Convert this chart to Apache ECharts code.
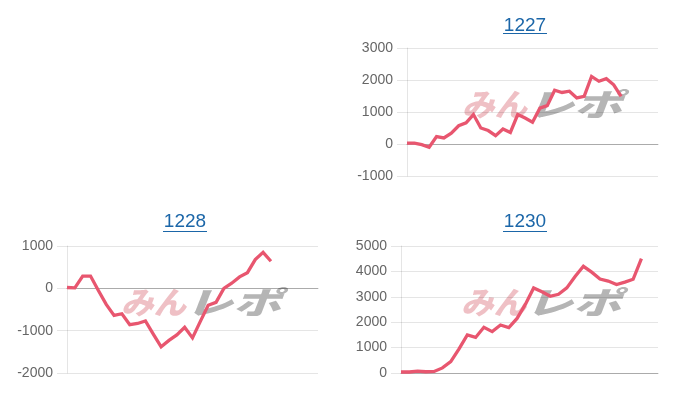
<!DOCTYPE html>
<html>
<head>
<meta charset="utf-8">
<script src="https://cdn.jsdelivr.net/npm/echarts@6/dist/echarts.min.js"></script>
<style>
html,body{margin:0;padding:0;background:#fff;}
#c{width:700px;height:400px;}
</style>
</head>
<body>
<div id="c"></div>
<script>
// ---- data ----
const titles = ['1227', '1228', '1230'];

const cat1227 = ['1','2','3','4','5','6','7','8','9','10','11','12','13','14','15','16','17','18','19','20','21','22','23','24','25','26','27','28','29','30','31','32','33','34','35'];
const cat1228 = ['1','2','3','4','5','6','7','8','9','10','11','12','13','14','15','16','17','18','19','20','21','22','23','24','25','26','27','28','29','30','31','32','33'];
const cat1230 = ['1','2','3','4','5','6','7','8','9','10','11','12','13','14','15','16','17','18','19','20','21','22','23','24','25','26','27','28','29','30','31','32'];

const val1227 = [30, 30, -20, -100, 230, 190, 340, 570, 660, 920, 500, 420, 260, 470, 360, 920, 810, 680, 1120, 1200, 1680, 1610, 1650, 1440, 1490, 2110, 1960, 2040, 1850, 1490];
const val1228 = [20, 10, 290, 290, -50, -380, -640, -600, -860, -830, -770, -1080, -1380, -1230, -1100, -920, -1170, -780, -400, -330, 0, 120, 270, 370, 680, 850, 640];
const val1230 = [40, 40, 70, 50, 60, 200, 450, 950, 1500, 1400, 1800, 1630, 1890, 1790, 2150, 2700, 3350, 3200, 3020, 3100, 3350, 3800, 4200, 3970, 3700, 3620, 3480, 3580, 3690, 4500];

const yTicks1227 = [-1000, 0, 1000, 2000, 3000];
const yTicks1228 = [-2000, -1000, 0, 1000];
const yTicks1230 = [0, 1000, 2000, 3000, 4000, 5000];

// ---- styling ----
const LINE = '#e8566f';
const GRID = 'rgba(0,0,0,0.1)';
const ZERO = 'rgba(0,0,0,0.25)';
const LINK = '#1b66a8';

const panels = [
  {cats: cat1227, vals: val1227, ticks: yTicks1227, grid: {left: 407, top: 48, width: 251, height: 128}},
  {cats: cat1228, vals: val1228, ticks: yTicks1228, grid: {left: 67, top: 246, width: 251, height: 127}},
  {cats: cat1230, vals: val1230, ticks: yTicks1230, grid: {left: 401, top: 246, width: 257, height: 127}}
];
const titlePos = [[525, 26, 503, 547, 33.5], [185, 222, 163, 207, 231.5], [525, 222, 503, 547, 231.5]];
const wmPos = [[462, 104], [121, 302], [461, 302]];

const grids = [], xAxes = [], yAxes = [], series = [], graphics = [];
panels.forEach((p, i) => {
  grids.push(Object.assign({containLabel: false}, p.grid));
  xAxes.push({
    type: 'category', gridIndex: i, data: p.cats, boundaryGap: false,
    axisLabel: {show: false}, axisTick: {show: false}, splitLine: {show: false},
    axisLine: {show: true, onZero: true, lineStyle: {color: ZERO, width: 1}}
  });
  yAxes.push({
    type: 'value', gridIndex: i,
    min: p.ticks[0], max: p.ticks[p.ticks.length - 1], interval: 1000,
    axisLine: {show: true, lineStyle: {color: GRID}},
    axisTick: {show: true, length: 10, lineStyle: {color: GRID}},
    splitLine: {show: true, lineStyle: {color: GRID}},
    axisLabel: {color: '#666', fontSize: 14, margin: 14, fontFamily: 'Liberation Sans, Arial, sans-serif',
      formatter: v => String(v)}
  });
  series.push({
    type: 'line', xAxisIndex: i, yAxisIndex: i, data: p.vals,
    showSymbol: false, symbol: 'none', smooth: false, z: 5,
    lineStyle: {color: LINE, width: 3.3, join: 'miter'}
  });
  const t = titlePos[i];
  graphics.push({
    type: 'text', x: t[0], y: t[1], z: 10,
    style: {text: titles[i], fill: LINK, font: '19px "Liberation Sans", Arial, sans-serif', align: 'center', verticalAlign: 'middle'}
  });
  graphics.push({
    type: 'line', z: 10,
    shape: {x1: t[2], y1: t[4], x2: t[3], y2: t[4]},
    style: {stroke: LINK, lineWidth: 1.2}
  });
  const w = wmPos[i];
  graphics.push({
    type: 'text', x: w[0], y: w[1], z: 0, scaleX: 1.05,
    style: {text: 'みん', fill: 'rgba(228,150,158,0.6)', font: 'italic 900 31px "Noto Sans CJK JP", sans-serif', align: 'left', verticalAlign: 'middle'}
  });
  graphics.push({
    type: 'text', x: w[0] + 64, y: w[1], z: 0, scaleX: 1.55,
    style: {text: 'レポ', fill: 'rgba(150,150,150,0.7)', font: 'italic 900 31px "Noto Sans CJK JP", sans-serif', align: 'left', verticalAlign: 'middle'}
  });
});

const chart = echarts.init(document.getElementById('c'), null, {renderer: 'canvas'});
chart.setOption({
  animation: false,
  backgroundColor: '#fff',
  grid: grids,
  xAxis: xAxes,
  yAxis: yAxes,
  series: series,
  graphic: graphics
});
</script>
</body>
</html>
